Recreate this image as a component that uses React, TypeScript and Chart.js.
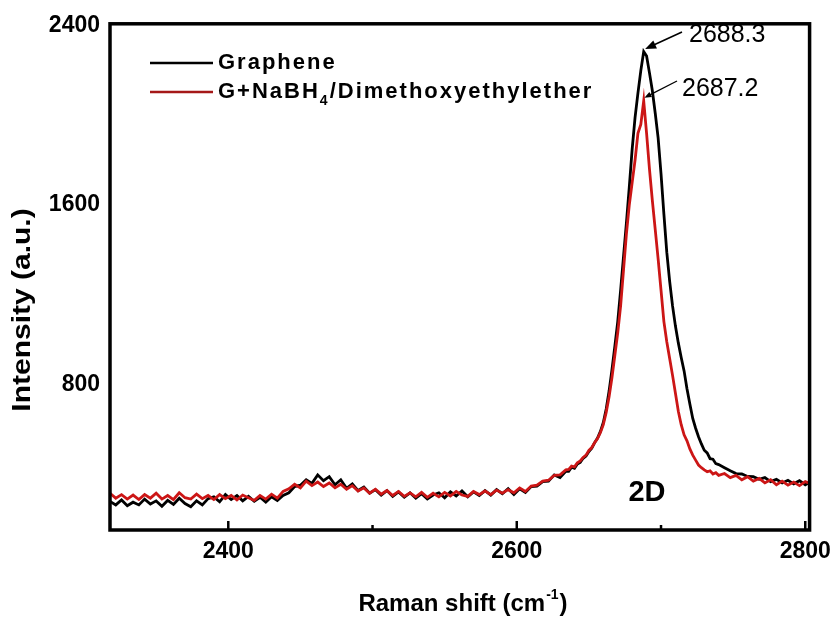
import React, { useEffect, useRef } from "react";
import { Chart, registerables } from "chart.js";

Chart.register(...registerables);

const FONT = '"Liberation Sans", Arial, Helvetica, sans-serif';

// Raman shift (cm-1)
const ramanShift = [
  2318, 2322, 2326, 2330, 2334, 2338, 2342, 2346, 2350, 2354,
  2358, 2362, 2366, 2370, 2374, 2378, 2382, 2386, 2390, 2394,
  2398, 2402, 2406, 2410, 2414, 2418, 2422, 2426, 2430, 2434,
  2438, 2442, 2446, 2450, 2454, 2458, 2462, 2466, 2470, 2474,
  2478, 2482, 2486, 2490, 2494, 2498, 2502, 2506, 2510, 2514,
  2518, 2522, 2526, 2530, 2534, 2538, 2542, 2546, 2550, 2554,
  2558, 2562, 2566, 2570, 2574, 2578, 2582, 2586, 2590, 2594,
  2598, 2602, 2606, 2610, 2614, 2618, 2622, 2626, 2630, 2634,
  2636, 2638, 2640, 2642, 2644, 2646, 2648, 2650, 2652, 2654,
  2656, 2658, 2660, 2662, 2664, 2666, 2668, 2670, 2672, 2674,
  2676, 2678, 2680, 2682, 2684, 2686, 2688, 2690, 2692, 2694,
  2696, 2698, 2700, 2702, 2704, 2706, 2708, 2710, 2712, 2714,
  2716, 2718, 2720, 2722, 2724, 2726, 2728, 2730, 2732, 2734,
  2736, 2738, 2740,
  2744, 2748, 2752, 2756, 2760, 2764, 2768, 2772, 2776, 2780,
  2784, 2788, 2792, 2796, 2800, 2804,
];

const grapheneIntensity = [
  278, 262, 284, 258, 274, 262, 288, 266, 280, 256,
  282, 264, 292, 268, 254, 280, 262, 290, 298, 276,
  308, 286, 304, 280, 300, 278, 296, 274, 298, 282,
  304, 316, 344, 350, 374, 358, 396, 370, 388, 352,
  374, 336, 356, 326, 342, 314, 330, 306, 326, 300,
  320, 296, 316, 292, 312, 288, 306, 316, 294, 320,
  302, 324, 298, 320, 304, 326, 306, 330, 312, 334,
  308, 334, 318, 344, 346, 366, 368, 396, 384, 412,
  412, 430, 425, 445, 452, 470, 480, 500, 515, 540,
  560, 590, 630, 690, 770, 865, 970, 1080, 1220, 1370,
  1520, 1680, 1850, 1990, 2100, 2200, 2285, 2265, 2190, 2110,
  2010, 1900, 1740, 1560, 1390, 1260, 1150, 1060, 985, 920,
  860, 780, 712, 648, 604, 566, 534, 506, 494, 468,
  466, 446, 442,
  428, 414, 402, 400, 389, 388, 376, 384, 366, 376,
  360, 372, 356, 370, 352, 366,
];

const treatedIntensity = [
  314, 292, 308, 288, 306, 286, 308, 292, 314, 288,
  304, 286, 316, 294, 288, 310, 290, 304, 286, 308,
  290, 304, 284, 306, 294, 282, 304, 288, 310, 292,
  322, 334, 354, 338, 368, 348, 364, 344, 360, 338,
  354, 332, 348, 324, 338, 314, 332, 310, 326, 304,
  322, 300, 316, 298, 318, 296, 314, 298, 318, 302,
  322, 306, 300, 322, 308, 324, 308, 328, 314, 330,
  316, 338, 322, 346, 350, 368, 372, 394, 396, 418,
  420, 435, 432, 450, 458, 474, 484, 505, 518, 540,
  558, 585, 620, 675, 745, 830, 930, 1030, 1150, 1310,
  1470, 1600, 1700, 1800, 1920, 1960, 2065, 1920, 1760, 1620,
  1490, 1360, 1220, 1080, 990, 915, 840, 760, 680, 620,
  575, 548, 512, 484, 462, 440, 428, 418, 410, 414,
  400, 406, 394,
  402, 384, 394, 374, 388, 368, 380, 360, 374, 352,
  368, 350, 364, 348, 366, 356,
];

const xTicks = [2400, 2500, 2600, 2700, 2800];
const xTickLabels = ["2400", "", "2600", "", "2800"];
const yTicks = [800, 1600, 2400];
const yTickLabels = ["800", "1600", "2400"];

const peakLabels = ["2688.3", "2687.2"];
const peakX = [2688.3, 2687.8];
const peakY = [2292, 2070];

const BLACK = "#000000";
const RED = "#cc1616";
const RED_LEGEND = "#a51818";

const decorPlugin = {
  id: "decor",
  afterDatasetsDraw(chart: any) {
    const { ctx, chartArea: a, scales } = chart;
    const x = scales.x;
    const y = scales.y;
    ctx.save();

    // frame
    ctx.strokeStyle = "#000";
    ctx.lineWidth = 3.5;
    ctx.strokeRect(a.left, a.top, a.right - a.left, a.bottom - a.top);

    // inward ticks on bottom axis
    ctx.lineWidth = 2.5;
    xTicks.forEach((v, i) => {
      const px = x.getPixelForValue(v);
      const len = xTickLabels[i] ? 9 : 5;
      ctx.beginPath();
      ctx.moveTo(px, a.bottom);
      ctx.lineTo(px, a.bottom - len);
      ctx.stroke();
    });

    // legend
    const lx0 = 150;
    const lx1 = 213;
    const rows = [63, 92];
    ctx.lineWidth = 2.5;
    ctx.strokeStyle = BLACK;
    ctx.beginPath();
    ctx.moveTo(lx0, rows[0]);
    ctx.lineTo(lx1, rows[0]);
    ctx.stroke();
    ctx.strokeStyle = RED_LEGEND;
    ctx.beginPath();
    ctx.moveTo(lx0, rows[1]);
    ctx.lineTo(lx1, rows[1]);
    ctx.stroke();

    ctx.fillStyle = "#000";
    ctx.textAlign = "left";
    ctx.textBaseline = "middle";
    (ctx as any).letterSpacing = "2px";
    ctx.font = `bold 22px ${FONT}`;
    ctx.fillText("Graphene", 218, rows[0]);
    let tx = 218;
    ctx.fillText("G+NaBH", tx, rows[1]);
    tx += ctx.measureText("G+NaBH").width;
    ctx.font = `bold 14px ${FONT}`;
    ctx.fillText("4", tx, rows[1] + 9);
    tx += ctx.measureText("4").width;
    ctx.font = `bold 22px ${FONT}`;
    ctx.fillText("/Dimethoxyethylether", tx, rows[1]);
    (ctx as any).letterSpacing = "0px";

    // peak annotations
    const tipB = { x: x.getPixelForValue(peakX[0]), y: y.getPixelForValue(peakY[0]) };
    const tipR = { x: x.getPixelForValue(peakX[1]), y: y.getPixelForValue(peakY[1]) };
    const arrow = (fx: number, fy: number, tx2: number, ty: number, head: number, lw: number) => {
      ctx.strokeStyle = "#000";
      ctx.fillStyle = "#000";
      ctx.lineWidth = lw;
      const ang = Math.atan2(ty - fy, tx2 - fx);
      ctx.beginPath();
      ctx.moveTo(fx, fy);
      ctx.lineTo(tx2 - Math.cos(ang) * head * 0.8, ty - Math.sin(ang) * head * 0.8);
      ctx.stroke();
      ctx.beginPath();
      ctx.moveTo(tx2, ty);
      ctx.lineTo(
        tx2 - Math.cos(ang) * head + Math.sin(ang) * head * 0.4,
        ty - Math.sin(ang) * head - Math.cos(ang) * head * 0.4
      );
      ctx.lineTo(
        tx2 - Math.cos(ang) * head - Math.sin(ang) * head * 0.4,
        ty - Math.sin(ang) * head + Math.cos(ang) * head * 0.4
      );
      ctx.closePath();
      ctx.fill();
    };
    arrow(682, 32, tipB.x + 1, tipB.y - 1, 11, 1.6);
    arrow(677, 81, tipR.x + 1, tipR.y - 2, 7, 1.3);

    ctx.fillStyle = "#000";
    ctx.font = `25px ${FONT}`;
    ctx.textAlign = "left";
    ctx.textBaseline = "middle";
    ctx.fillText(peakLabels[0], 689, 35);
    ctx.fillText(peakLabels[1], 682, 89);

    // band label
    ctx.font = `bold 29px ${FONT}`;
    ctx.textAlign = "center";
    ctx.fillText("2D", 647, 493);

    // x-axis title with superscript
    ctx.font = `bold 24px ${FONT}`;
    const p1 = "Raman shift (cm";
    const p3 = ")";
    const w1 = ctx.measureText(p1).width;
    const w3 = ctx.measureText(p3).width;
    ctx.font = `bold 14px ${FONT}`;
    const w2 = ctx.measureText("-1").width;
    const total = w1 + w2 + w3 + 2;
    let sx = 463 - total / 2;
    ctx.textAlign = "left";
    ctx.font = `bold 24px ${FONT}`;
    ctx.fillText(p1, sx, 604);
    sx += w1 + 1;
    ctx.font = `bold 14px ${FONT}`;
    ctx.fillText("-1", sx, 595);
    sx += w2 + 1;
    ctx.font = `bold 24px ${FONT}`;
    ctx.fillText(p3, sx, 604);

    // y-axis title
    ctx.save();
    ctx.translate(23, 310);
    ctx.rotate(-Math.PI / 2);
    ctx.scale(1.2, 1);
    ctx.font = `bold 25px ${FONT}`;
    ctx.textAlign = "center";
    ctx.textBaseline = "middle";
    ctx.fillText("Intensity (a.u.)", 0, 0);
    ctx.restore();

    ctx.restore();
  },
};

export default function App() {
  const ref = useRef<HTMLCanvasElement | null>(null);

  useEffect(() => {
    if (!ref.current) return;
    const chart = new Chart(ref.current, {
      type: "line",
      data: {
        datasets: [
          {
            label: "G+NaBH4/Dimethoxyethylether",
            data: ramanShift.map((v, i) => ({ x: v, y: treatedIntensity[i] })),
            borderColor: RED,
            borderWidth: 2.8,
            pointRadius: 0,
            tension: 0,
            order: 0,
          },
          {
            label: "Graphene",
            data: ramanShift.map((v, i) => ({ x: v, y: grapheneIntensity[i] })),
            borderColor: BLACK,
            borderWidth: 2.8,
            pointRadius: 0,
            tension: 0,
            order: 1,
          },
        ],
      },
      options: {
        responsive: false,
        animation: false,
        devicePixelRatio: 1,
        layout: { padding: { top: 16, right: 26, left: 0, bottom: 0 } },
        plugins: { legend: { display: false }, tooltip: { enabled: false } },
        scales: {
          x: {
            type: "linear",
            min: 2318,
            max: 2803,
            afterBuildTicks: (s: any) => {
              s.ticks = xTicks.map((v) => ({ value: v }));
            },
            afterFit: (s: any) => {
              s.height = 93;
            },
            ticks: {
              callback: (v: any) => xTickLabels[xTicks.indexOf(Number(v))] ?? "",
              font: { family: FONT, size: 23, weight: "bold" },
              color: "#000",
              padding: 8,
              maxRotation: 0,
              autoSkip: false,
            },
            grid: { display: false, drawTicks: false },
            border: { display: false },
          },
          y: {
            type: "linear",
            min: 150,
            max: 2409,
            afterBuildTicks: (s: any) => {
              s.ticks = yTicks.map((v) => ({ value: v }));
            },
            afterFit: (s: any) => {
              s.width = 110;
            },
            ticks: {
              callback: (v: any) => yTickLabels[yTicks.indexOf(Number(v))] ?? "",
              font: { family: FONT, size: 23, weight: "bold" },
              color: "#000",
              padding: 10,
              autoSkip: false,
            },
            grid: { display: false, drawTicks: false },
            border: { display: false },
          },
        },
      },
      plugins: [decorPlugin],
    } as any);
    return () => chart.destroy();
  }, []);

  return (
    <div style={{ position: "fixed", left: 0, top: 0, width: 839, height: 623, background: "#fff" }}>
      <canvas ref={ref} width={839} height={623} style={{ display: "block", width: 839, height: 623 }} />
    </div>
  );
}
